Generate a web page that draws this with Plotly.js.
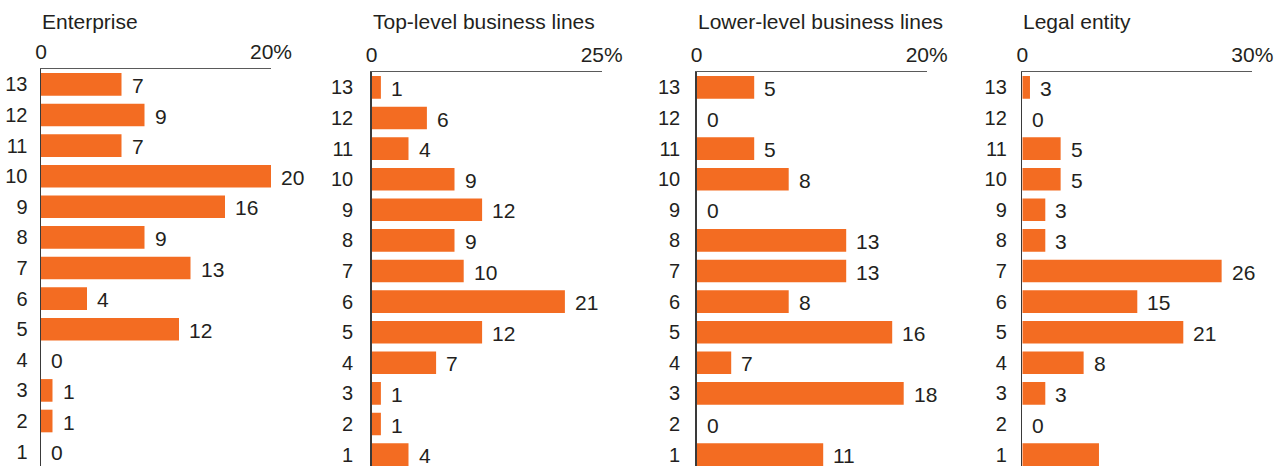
<!DOCTYPE html>
<html>
<head>
<meta charset="utf-8">
<script src="https://cdn.plot.ly/plotly-3.0.1.min.js"></script>
<style>html,body{margin:0;padding:0;background:#fff;}#chart{width:1277px;height:466px;}</style>
</head>
<body>
<div id="chart"></div>
<script>
// Categories (rows, bottom to top)
const categories = [1, 2, 3, 4, 5, 6, 7, 8, 9, 10, 11, 12, 13];

// Panel titles and axis maxima / tick labels
const panelTitles = ["Enterprise", "Top-level business lines", "Lower-level business lines", "Legal entity"];
const axisMax = [20, 25, 20, 30];
const tickLabelsEnterprise = ["0", "20%"];
const tickLabelsTop = ["0", "25%"];
const tickLabelsLower = ["0", "20%"];
const tickLabelsLegal = ["0", "30%"];

// Bar lengths (as drawn) and printed labels, categories 1..13
const enterpriseValues = [0, 1, 1, 0, 12, 4, 13, 9, 16, 20, 7, 9, 7];
const enterpriseLabels = ["0", "1", "1", "0", "12", "4", "13", "9", "16", "20", "7", "9", "7"];

const topValues = [4, 1, 1, 7, 12, 21, 10, 9, 12, 9, 4, 6, 1];
const topLabels = ["4", "1", "1", "7", "12", "21", "10", "9", "12", "9", "4", "6", "1"];

const lowerValues = [11, 0, 18, 3, 17, 8, 13, 13, 0, 8, 5, 0, 5];
const lowerLabels = ["11", "0", "18", "7", "16", "8", "13", "13", "0", "8", "5", "0", "5"];

const legalValues = [10, 0, 3, 8, 21, 15, 26, 3, 3, 5, 5, 0, 1];
const legalLabels = ["", "0", "3", "8", "21", "15", "26", "3", "3", "5", "5", "0", "3"];

const W = 1277, H = 466;
const barColor = "#F36C22";
const textColor = "#231F20";
const fontFam = "Liberation Sans, Arial, Helvetica, sans-serif";

const panels = [
  {values: enterpriseValues, labels: enterpriseLabels, ticks: tickLabelsEnterprise, x0: 41, top: 69, standoff: 10},
  {values: topValues, labels: topLabels, ticks: tickLabelsTop, x0: 371.7, top: 72, standoff: 15},
  {values: lowerValues, labels: lowerLabels, ticks: tickLabelsLower, x0: 696.7, top: 72, standoff: 13},
  {values: legalValues, labels: legalLabels, ticks: tickLabelsLegal, x0: 1022.3, top: 72, standoff: 12}
];

const rowPx = 30.6;
const plotW = 230;

const data = [];
const layout = {
  width: W, height: H,
  margin: {l: 0, r: 0, t: 0, b: 0},
  paper_bgcolor: "#fff", plot_bgcolor: "#fff",
  showlegend: false,
  bargap: 0.26,
  font: {family: fontFam, size: 20, color: textColor},
  annotations: []
};

panels.forEach((p, i) => {
  const n = i + 1;
  const xa = "x" + (n === 1 ? "" : n);
  const ya = "y" + (n === 1 ? "" : n);
  const xKey = "xaxis" + (n === 1 ? "" : n);
  const yKey = "yaxis" + (n === 1 ? "" : n);

  data.push({
    type: "bar", orientation: "h",
    x: p.values, y: categories,
    xaxis: xa, yaxis: ya,
    marker: {color: barColor, line: {width: 0}},
    hoverinfo: "none"
  });

  const domTop = 1 - p.top / H;
  const yMax = 13 + 15.4 / rowPx;
  const yMin = yMax - (H - p.top) / rowPx;

  layout[xKey] = {
    domain: [p.x0 / W, (p.x0 + plotW) / W],
    range: [0, axisMax[i]],
    anchor: ya,
    side: "top",
    showgrid: false, zeroline: false,
    showline: true, linecolor: "#5a5a5a", linewidth: 1.5,
    ticks: "", tickvals: [0, axisMax[i]], ticktext: p.ticks,
    tickfont: {family: fontFam, size: 21, color: textColor},
    ticklabelstandoff: 0,
    fixedrange: true
  };
  layout[yKey] = {
    domain: [0, domTop],
    range: [yMin, yMax],
    anchor: xa,
    showgrid: false, zeroline: false,
    showline: true, linecolor: "#3a3a3a", linewidth: 1.5,
    ticks: "", tickvals: categories, ticktext: categories.map(String),
    tickfont: {family: fontFam, size: 20, color: textColor},
    ticklabelstandoff: p.standoff - 2,
    fixedrange: true
  };

  // Panel title, left-aligned at the axis start
  layout.annotations.push({
    text: panelTitles[i], xref: "paper", yref: "paper",
    x: (p.x0 - 1) / W, y: 1 - 21 / H, xanchor: "left", yanchor: "middle",
    showarrow: false, font: {family: fontFam, size: 21, color: textColor}
  });

  // Value labels
  categories.forEach((c, k) => {
    if (p.labels[k] === "") return;
    layout.annotations.push({
      text: p.labels[k], x: p.values[k], y: c, xref: xa, yref: ya,
      xanchor: "left", yanchor: "middle", xshift: 8, yshift: -1,
      showarrow: false, font: {family: fontFam, size: 21, color: textColor}
    });
  });
});

Plotly.newPlot("chart", data, layout, {displayModeBar: false, staticPlot: true});
</script>
</body>
</html>
